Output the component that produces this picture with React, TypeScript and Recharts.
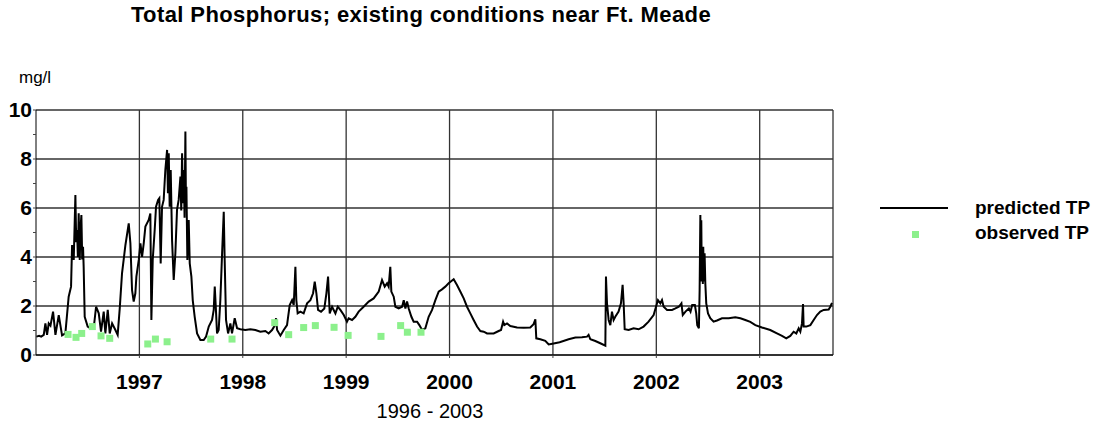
import {
  ComposedChart,
  Line,
  Scatter,
  XAxis,
  YAxis,
  CartesianGrid,
} from "recharts";

// decimal year of each model output point
const predictedYear = [
  1996.004, 1996.03, 1996.05, 1996.075, 1996.091, 1996.107, 1996.123, 1996.14, 1996.165, 1996.188,
  1996.22, 1996.252, 1996.284, 1996.316, 1996.339, 1996.349, 1996.365, 1996.381, 1996.389, 1996.397, 1996.405, 1996.413,
  1996.423, 1996.431, 1996.439, 1996.447, 1996.455, 1996.461, 1996.471, 1996.5, 1996.526, 1996.558, 1996.581, 1996.607,
  1996.629, 1996.655, 1996.671, 1996.694, 1996.713, 1996.736, 1996.768, 1996.79, 1996.81, 1996.832,
  1996.865, 1996.897, 1996.913, 1996.929, 1996.945, 1996.961, 1996.971, 1996.994,
  1997.01, 1997.026, 1997.042, 1997.058, 1997.09, 1997.106, 1997.116, 1997.129, 1997.148, 1997.161,
  1997.181, 1997.193, 1997.206, 1997.219, 1997.235, 1997.251, 1997.268, 1997.276, 1997.284, 1997.293, 1997.303,
  1997.316, 1997.332, 1997.348, 1997.364, 1997.38, 1997.397, 1997.405, 1997.413, 1997.421, 1997.429, 1997.437, 1997.445, 1997.45, 1997.455,
  1997.464, 1997.477, 1997.487, 1997.503, 1997.516, 1997.535, 1997.558, 1997.59, 1997.622, 1997.645,
  1997.671, 1997.703, 1997.719, 1997.729, 1997.742, 1997.751, 1997.767, 1997.783, 1997.8, 1997.816,
  1997.825, 1997.838, 1997.858, 1997.88, 1997.896, 1997.922, 1997.945, 1997.977,
  1998.025, 1998.073, 1998.122, 1998.17, 1998.219, 1998.25, 1998.283, 1998.306, 1998.322, 1998.332,
  1998.364, 1998.396, 1998.428, 1998.454, 1998.477, 1998.493, 1998.509, 1998.518, 1998.531, 1998.557,
  1998.589, 1998.622, 1998.654, 1998.68, 1998.696, 1998.712, 1998.728, 1998.757, 1998.789, 1998.809,
  1998.825, 1998.841, 1998.864, 1998.896, 1998.919, 1998.944, 1998.977,
  1999.008, 1999.024, 1999.057, 1999.089, 1999.121, 1999.169, 1999.218, 1999.266, 1999.315, 1999.347,
  1999.373, 1999.396, 1999.411, 1999.427, 1999.437, 1999.46, 1999.476, 1999.508, 1999.541, 1999.557,
  1999.573, 1999.589, 1999.605, 1999.631, 1999.653, 1999.686, 1999.708, 1999.734, 1999.766, 1999.798,
  1999.831, 1999.863, 1999.895, 1999.927, 1999.959, 1999.991,
  2000.04, 2000.072, 2000.104, 2000.137, 2000.169, 2000.201, 2000.233, 2000.266, 2000.298, 2000.33,
  2000.363, 2000.427, 2000.475, 2000.498, 2000.518, 2000.53, 2000.556, 2000.588, 2000.653, 2000.717,
  2000.781, 2000.813, 2000.83, 2000.839, 2000.878, 2000.926, 2000.959,
  2001.007, 2001.065, 2001.152, 2001.217, 2001.281, 2001.33, 2001.345, 2001.362, 2001.41, 2001.458,
  2001.507, 2001.513, 2001.523, 2001.539, 2001.555, 2001.571, 2001.587, 2001.603, 2001.635, 2001.658,
  2001.674, 2001.684, 2001.694, 2001.732, 2001.78, 2001.829, 2001.877, 2001.925, 2001.974,
  2002.007, 2002.016, 2002.039, 2002.055, 2002.071, 2002.104, 2002.152, 2002.185, 2002.218, 2002.243,
  2002.256, 2002.282, 2002.315, 2002.331, 2002.347, 2002.373, 2002.386, 2002.396, 2002.412, 2002.419,
  2002.426, 2002.43, 2002.435, 2002.44, 2002.445, 2002.45, 2002.454, 2002.46, 2002.467, 2002.474,
  2002.483, 2002.5, 2002.522, 2002.554, 2002.587, 2002.635, 2002.7, 2002.764, 2002.813, 2002.861,
  2002.909, 2002.958,
  2003.022, 2003.102, 2003.167, 2003.216, 2003.257, 2003.296, 2003.328, 2003.354, 2003.377, 2003.393,
  2003.409, 2003.419, 2003.425, 2003.451, 2003.49, 2003.522, 2003.554, 2003.586, 2003.619, 2003.667,
  2003.683, 2003.699,
];

// predicted total phosphorus, mg/l
const predictedTP = [
  0.75, 0.78, 0.75, 0.82, 1.29, 0.82, 1.29, 1.2, 1.77, 0.82,
  1.63, 0.8, 0.88, 2.38, 2.79, 4.49, 3.88, 6.53, 4.6, 5.1, 4.0, 5.78,
  3.88, 5.2, 5.71, 3.9, 4.42, 3.6, 1.56, 1.16, 1.09, 1.09, 1.97, 1.7,
  0.95, 1.77, 0.88, 1.84, 0.88, 1.29, 1.02, 0.82, 1.9, 3.33,
  4.49, 5.37, 4.56, 2.65, 2.18, 2.52, 3.2, 3.88,
  4.56, 4.01, 4.56, 5.24, 5.51, 5.78, 1.43, 3.88, 5.1, 6.05,
  6.33, 6.4, 3.74, 6.05, 6.33, 7.55, 8.37, 6.6, 8.23, 6.05, 7.55,
  4.69, 3.06, 4.15, 5.92, 6.33, 7.28, 5.9, 8.23, 6.2, 7.55, 5.6, 9.12, 6.3, 6.87,
  3.88, 5.51, 3.74, 3.2, 2.24, 1.56, 0.88, 0.61, 0.61, 0.75,
  1.16, 1.43, 1.84, 2.79, 1.7, 0.88, 1.02, 2.24, 4.15, 5.85,
  3.88, 1.43, 0.88, 1.29, 0.88, 1.5, 1.09, 1.05,
  1.02, 1.05, 1.02, 0.95, 0.98, 0.88, 1.02, 1.18, 1.5, 1.02,
  0.79, 1.02, 1.22, 2.04, 2.24, 2.04, 3.6, 2.24, 1.7, 1.77,
  1.7, 2.11, 2.24, 2.52, 2.99, 2.52, 1.84, 1.77, 1.9, 2.52,
  3.2, 1.7, 1.97, 1.7, 1.97, 1.84, 1.63,
  1.36, 1.5, 1.43, 1.56, 1.77, 1.97, 2.18, 2.31, 2.59, 3.06,
  2.79, 2.93, 2.79, 3.6, 2.59, 2.38, 1.97, 1.9, 1.97, 2.24,
  1.9, 2.18, 1.9, 1.56, 1.36, 1.36, 1.22, 1.02, 1.09, 1.56,
  1.84, 2.24, 2.59, 2.68, 2.79, 2.93,
  3.09, 2.86, 2.59, 2.31, 1.97, 1.7, 1.43, 1.16, 0.98, 0.95,
  0.88, 0.88, 0.98, 1.02, 1.36, 1.22, 1.29, 1.18, 1.12, 1.11,
  1.12, 1.26, 1.46, 0.68, 0.64, 0.58, 0.43,
  0.47, 0.52, 0.64, 0.71, 0.72, 0.75, 0.82, 0.64, 0.57, 0.48,
  0.38, 3.2, 2.11, 1.43, 1.22, 1.77, 1.43, 1.56, 1.77, 2.11,
  2.86, 2.11, 1.05, 1.02, 1.09, 1.05, 1.16, 1.36, 1.63,
  2.11, 2.24, 2.11, 2.24, 1.97, 1.84, 1.84, 1.9, 1.97, 2.11,
  1.63, 1.77, 1.9, 1.77, 2.04, 2.04, 1.7, 1.22, 1.09, 2.65,
  5.71, 3.0, 5.5, 3.0, 4.42, 2.9, 4.42, 3.0, 4.15, 2.93,
  2.11, 1.7, 1.5, 1.36, 1.41, 1.5, 1.5, 1.54, 1.5, 1.43,
  1.35, 1.22,
  1.12, 1.02, 0.88, 0.78, 0.68, 0.78, 0.95, 0.88, 1.09, 0.95,
  1.29, 2.08, 1.16, 1.16, 1.22, 1.43, 1.63, 1.77, 1.84, 1.86,
  1.97, 2.13,
];

// sampled values
const observedYear = [
  1996.31, 1996.387, 1996.442, 1996.545, 1996.629, 1996.713,
  1997.081, 1997.155, 1997.268, 1997.69, 1997.896,
  1998.309, 1998.444, 1998.589, 1998.702, 1998.883, 1999.019,
  1999.337, 1999.527, 1999.592, 1999.724,
];
const observedTP = [
  0.84, 0.72, 0.88, 1.16, 0.78, 0.68,
  0.45, 0.65, 0.54, 0.65, 0.65,
  1.32, 0.83, 1.12, 1.2, 1.13, 0.8,
  0.76, 1.2, 0.93, 0.93,
];

const yearTicks = [1997, 1998, 1999, 2000, 2001, 2002, 2003];
const tpTicks = [0, 1, 2, 3, 4, 5, 6, 7, 8, 9, 10];
const tpGrid = [0, 2, 4, 6, 8, 10];
const xEnd = 2003.709;

const predictedData = predictedYear.map((year, i) => ({ year, tp: predictedTP[i] }));
const observedData = observedYear.map((year, i) => ({ year, tp: observedTP[i] }));

const FONT = '"Liberation Sans", Arial, sans-serif';

const YTick = (props: any) => {
  const { x, y, payload } = props;
  if (payload.value % 2 !== 0) return <g />;
  return (
    <text x={x} y={y} dy={7} textAnchor="end" fontFamily={FONT} fontSize={21} fontWeight="bold" fill="#000">
      {payload.value}
    </text>
  );
};

const XTick = (props: any) => {
  const { x, y, payload } = props;
  return (
    <text x={x} y={y} dy={31} textAnchor="middle" fontFamily={FONT} fontSize={21} fontWeight="bold" fill="#000">
      {payload.value}
    </text>
  );
};

const SquareDot = (props: any) => (
  <rect x={props.cx - 3.5} y={props.cy - 3.5} width={7} height={7} fill="#8cf08c" />
);

function App() {
  return (
    <div style={{ position: "absolute", left: 0, top: 0, width: 1095, height: 428, background: "#fff", fontFamily: FONT }}>
      <div style={{ position: "absolute", left: 0, width: 842, top: 2, textAlign: "center", fontSize: 22, fontWeight: "bold", letterSpacing: 0.4 }}>
        Total Phosphorus; existing conditions near Ft. Meade
      </div>
      <div style={{ position: "absolute", left: 19, top: 68, fontSize: 17 }}>mg/l</div>
      <div style={{ position: "absolute", left: 330, width: 200, top: 400, textAlign: "center", fontSize: 20 }}>
        1996 - 2003
      </div>

      <ComposedChart width={1095} height={428} margin={{ top: 110, right: 262, bottom: 33, left: 6 }}>
        <CartesianGrid
          stroke="#333"
          strokeWidth={1.3}
          horizontalValues={tpGrid}
          verticalValues={[...yearTicks, xEnd]}
        />
        <XAxis
          dataKey="year"
          type="number"
          domain={[1996, xEnd]}
          ticks={yearTicks}
          allowDataOverflow
          height={40}
          tickSize={3}
          tickMargin={0}
          stroke="#000"
          tickLine={{ stroke: "#444" }}
          tick={<XTick />}
        />
        <YAxis
          dataKey="tp"
          type="number"
          domain={[0, 10]}
          ticks={tpTicks}
          width={30}
          tickSize={3}
          tickMargin={1}
          stroke="#000"
          tickLine={{ stroke: "#444" }}
          tick={<YTick />}
        />
        <Line
          data={predictedData}
          dataKey="tp"
          type="linear"
          stroke="#000"
          strokeWidth={2}
          dot={false}
          isAnimationActive={false}
        />
        <Scatter data={observedData} dataKey="tp" shape={<SquareDot />} isAnimationActive={false} />
      </ComposedChart>

      <div style={{ position: "absolute", left: 880, top: 197, width: 215 }}>
        <div style={{ position: "relative", height: 24 }}>
          <div style={{ position: "absolute", left: 0, top: 10, width: 68, height: 2, background: "#000" }} />
          <div style={{ position: "absolute", left: 95, top: 0, fontSize: 19, fontWeight: "bold" }}>predicted TP</div>
        </div>
        <div style={{ position: "relative", height: 24 }}>
          <div style={{ position: "absolute", left: 32, top: 10, width: 7, height: 7, background: "#8cf08c" }} />
          <div style={{ position: "absolute", left: 95, top: 1, fontSize: 19, fontWeight: "bold" }}>observed TP</div>
        </div>
      </div>
    </div>
  );
}

export default App;
